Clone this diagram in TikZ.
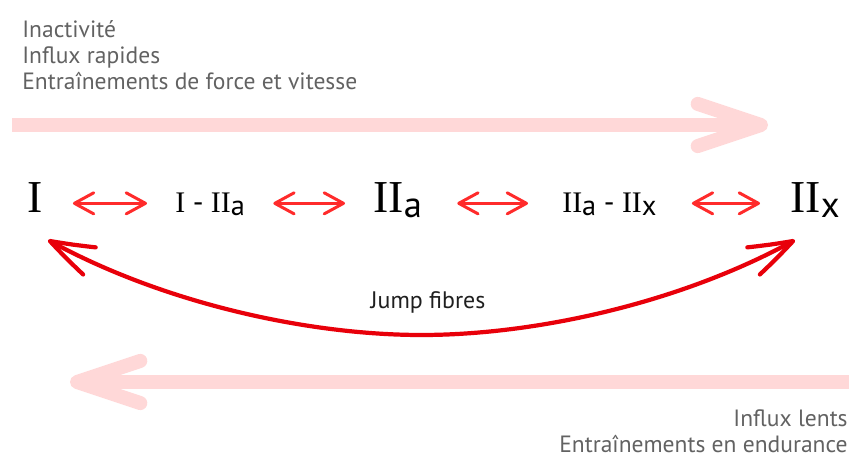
\documentclass[tikz,border=0pt]{standalone}
\usepackage{fontspec}
\setmainfont{Liberation Serif}
\setsansfont{PT Sans}
\usetikzlibrary{arrows.meta, bending}

\definecolor{palered}{HTML}{FFD8D8}
\definecolor{linkred}{HTML}{FF2B2B}
\definecolor{jumpred}{HTML}{E8000A}
\definecolor{notegray}{HTML}{626262}

% sans subscript after the roman numerals
\newcommand{\fsub}[2][0.8]{\raisebox{-0.1em}{\scalebox{#1}{\sffamily #2}}}

\begin{document}
\begin{tikzpicture}[x=0.02cm, y=-0.02cm,
    note/.style={text=notegray, inner sep=0pt, font=\sffamily\fontsize{13.4pt}{14.9pt}\selectfont},
    fibre/.style={inner sep=0pt, anchor=base west, text height=16pt, text depth=5pt},
    bigfibre/.style={fibre, font=\fontsize{26pt}{30pt}\selectfont},
    smallfibre/.style={fibre, font=\fontsize{17pt}{20pt}\selectfont},
    pairarrow/.style={draw=linkred, line width=1.7pt,
        {Straight Barb[length=11pt, width=12pt, round]}-{Straight Barb[length=11pt, width=12pt, round]}},
    jumparrow/.style={draw=jumpred, line width=2.4pt,
        {Straight Barb[length=25pt, width=17pt, round, bend]}-{Straight Barb[length=25pt, width=17pt, round, bend]}},
    palearrow/.style={draw=palered, line width=8pt, -{Straight Barb[length=36pt, width=24pt, round]}}
]
    \useasboundingbox (0,0) rectangle (849,459);

    % Top notes
    \node[note, align=left, anchor=north west] (fastnote) at (22,20)
        {Inactivité\\Influx rapides\\Entraînements de force et vitesse};

    % Pale arrow towards the fast fibres
    \coordinate (fastfrom) at (12,125);
    \coordinate (fastto) at (768,125);
    \draw[palearrow] (fastfrom) -- (fastto);

    % Fibre types
    \node[bigfibre] (t1) at (27,213) {I};
    \node[smallfibre] (t12) at (175,213) {I {\sffamily-} II\fsub[0.95]{a}};
    \node[bigfibre] (t2) at (373,213) {II\fsub{a}};
    \node[smallfibre] (t2x) at (562,213) {II\fsub[0.95]{a} {\sffamily-} II\fsub[0.95]{x}};
    \node[bigfibre] (tx) at (790,213) {II\fsub{x}};

    % Small double arrows between neighbours
    \foreach \a/\b/\s/\e in {t1/t12/30/28, t12/t2/28/28, t2/t2x/35/34, t2x/tx/35/30} {
        \draw[pairarrow, shorten <=\s*0.02cm, shorten >=\e*0.02cm] (\a.east) -- (\b.west);
    }

    % Jump fibres curve
    \coordinate (jl) at (48,240);
    \coordinate (jlow) at (421.5,335);
    \coordinate (jr) at (795,240);
    \draw[jumparrow] (jl) .. controls (162,303) and (307.5,335) .. (jlow)
        .. controls (535.5,335) and (681,303) .. (jr);
    \node[font=\sffamily\fontsize{13.6pt}{16pt}\selectfont, text=black!88] (jump) at (428,302) {Jump fibres};

    % Pale arrow towards the slow fibres
    \coordinate (slowfrom) at (849,382);
    \coordinate (slowto) at (70,382);
    \draw[palearrow] (slowfrom) -- (slowto);

    % Bottom notes
    \node[note, align=right, anchor=south east] (slownote) at (848,453)
        {Influx lents\\Entraînements en endurance};
\end{tikzpicture}
\end{document}
